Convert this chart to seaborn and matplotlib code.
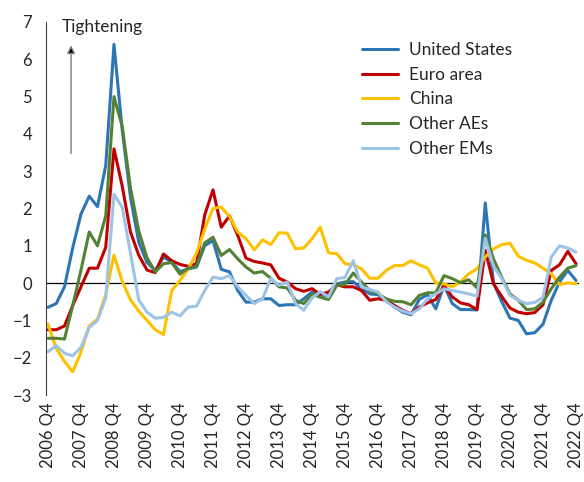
import numpy as np
import pandas as pd
import matplotlib
matplotlib.use("Agg")
import matplotlib.pyplot as plt
import seaborn as sns

year_labels = ["2006 Q4", "2007 Q4", "2008 Q4", "2009 Q4", "2010 Q4", "2011 Q4",
               "2012 Q4", "2013 Q4", "2014 Q4", "2015 Q4", "2016 Q4", "2017 Q4",
               "2018 Q4", "2019 Q4", "2020 Q4", "2021 Q4", "2022 Q4"]

# quarterly values, 2006 Q4 .. 2022 Q4 (65 quarters)
united_states = [-0.65, -0.55, -0.1, 0.95, 1.85, 2.33, 2.05, 3.15, 6.4, 4.1, 2.3, 1.1, 0.55,
                 0.34, 0.7, 0.56, 0.31, 0.38, 0.43, 1.0, 1.14, 0.37, 0.3, -0.2, -0.51,
                 -0.51, -0.42, -0.42, -0.6, -0.58, -0.58, -0.42, -0.24, -0.33, -0.33, -0.02,
                 0.03, 0.04, -0.15, -0.29, -0.31, -0.46, -0.64, -0.78, -0.85, -0.44, -0.31,
                 -0.69, -0.06, -0.55, -0.71, -0.71, -0.72, 2.15, 0.0, -0.5, -0.94, -1.0,
                 -1.36, -1.33, -1.1, -0.46, 0.03, 0.34, 0.07]
euro_area = [-1.25, -1.25, -1.15, -0.6, -0.1, 0.4, 0.4, 0.96, 3.6, 2.6, 1.37, 0.75, 0.35,
             0.28, 0.78, 0.6, 0.5, 0.45, 0.52, 1.83, 2.5, 1.5, 1.8, 1.28, 0.67,
             0.58, 0.54, 0.49, 0.13, 0.03, -0.15, -0.22, -0.15, -0.3, -0.24, -0.05,
             -0.1, -0.1, -0.2, -0.46, -0.42, -0.46, -0.6, -0.73, -0.82, -0.64, -0.53,
             -0.44, -0.06, -0.37, -0.53, -0.58, -0.71, 0.88, -0.02, -0.36, -0.67, -0.78,
             -0.82, -0.79, -0.58, 0.34, 0.49, 0.85, 0.52]
china = [-1.1, -1.75, -2.1, -2.38, -1.85, -1.15, -0.97, -0.3, 0.75, 0.05, -0.45, -0.75, -1.0,
         -1.25, -1.38, -0.2, 0.07, 0.38, 0.8, 1.45, 2.0, 2.04, 1.78, 1.37, 1.19,
         0.89, 1.16, 1.03, 1.35, 1.34, 0.92, 0.94, 1.19, 1.5, 0.81, 0.79,
         0.52, 0.49, 0.38, 0.13, 0.13, 0.34, 0.47, 0.47, 0.6, 0.49, 0.4,
         0.0, -0.02, -0.1, 0.03, 0.25, 0.38, 0.7, 0.92, 1.03, 1.07, 0.72,
         0.61, 0.54, 0.4, 0.25, -0.04, 0.01, -0.02]
other_aes = [-1.48, -1.48, -1.5, -0.6, 0.35, 1.37, 1.0, 1.8, 5.0, 4.2, 2.55, 1.4, 0.68,
             0.3, 0.52, 0.55, 0.24, 0.4, 0.45, 1.08, 1.23, 0.74, 0.9, 0.65, 0.43,
             0.27, 0.31, 0.13, -0.1, -0.13, -0.46, -0.55, -0.29, -0.38, -0.44, -0.06,
             -0.04, 0.27, 0.03, -0.2, -0.29, -0.42, -0.49, -0.5, -0.58, -0.33, -0.26,
             -0.26, 0.2, 0.12, 0.01, 0.09, -0.13, 1.29, 0.65, 0.15, -0.29, -0.46,
             -0.71, -0.69, -0.51, -0.15, 0.16, 0.4, 0.47]
other_ems = [-1.84, -1.68, -1.88, -1.95, -1.72, -1.19, -1.0, -0.4, 2.38, 2.03, 0.8, -0.45, -0.78,
             -0.94, -0.92, -0.78, -0.88, -0.64, -0.62, -0.2, 0.16, 0.12, 0.2, -0.1, -0.33,
             -0.55, -0.42, 0.12, -0.06, 0.03, -0.55, -0.73, -0.4, -0.23, -0.37, 0.12,
             0.15, 0.6, -0.1, -0.17, -0.24, -0.5, -0.64, -0.75, -0.82, -0.69, -0.42,
             -0.29, -0.15, -0.2, -0.24, -0.29, -0.35, 1.2, 0.45, 0.12, -0.33, -0.46,
             -0.55, -0.52, -0.38, 0.7, 1.0, 0.94, 0.83]

series = {"United States": united_states, "Euro area": euro_area, "China": china,
          "Other AEs": other_aes, "Other EMs": other_ems}
colors = {"United States": "#2E75B6", "Euro area": "#C00000", "China": "#FFC000",
          "Other AEs": "#548235", "Other EMs": "#9DC3E6"}

frames = []
for name, vals in series.items():
    frames.append(pd.DataFrame({"q": np.arange(len(vals)), "value": vals, "series": name}))
df = pd.concat(frames, ignore_index=True)

sns.set_style("white")
plt.rcParams['font.family'] = ['Lato', 'DejaVu Sans']

fig = plt.figure(figsize=(5.84, 4.82), dpi=100)
ax = fig.add_axes([46 / 584, 1 - 395 / 482, (579 - 46) / 584, (395 - 22) / 482])

sns.lineplot(data=df, x="q", y="value", hue="series", hue_order=list(series.keys()),
             palette=colors, linewidth=2.2, ax=ax, legend=True)

ax.axhline(0, color="black", lw=0.9, zorder=1)
ax.set_xlim(-0.24, 64.36)
ax.set_ylim(-3, 7)
ax.set_yticks(range(-3, 8))
ax.set_xticks(range(0, 65, 4))
ax.set_xticklabels(year_labels, rotation=90, fontsize=12)
ax.tick_params(axis="y", labelsize=12, length=4, width=0.8, direction="out", color="#404040", pad=6)
ax.tick_params(axis="x", length=0, pad=5)
ax.set_xlabel("")
ax.set_ylabel("")
for s in ["top", "right", "bottom"]:
    ax.spines[s].set_visible(False)
ax.spines["left"].set_color("#404040")
ax.spines["left"].set_linewidth(0.8)

ax.text(62 / 584, 1 - 27 / 482, "Tightening", transform=fig.transFigure, fontsize=12.5,
        va="center", ha="left")
ax.annotate("", xy=(2.8, 6.45), xytext=(2.8, 3.4),
            arrowprops=dict(arrowstyle="-|>", color="#808080", lw=1.0, mutation_scale=12,
                            fc="black", ec="#808080"))

leg = ax.legend(loc="upper left", bbox_to_anchor=(362 / 584, 1 - 42 / 482),
                bbox_transform=fig.transFigure, frameon=False, fontsize=12.5,
                handlelength=2.1, handletextpad=0.6, labelspacing=0.5,
                borderpad=0, borderaxespad=0)
for line in leg.get_lines():
    line.set_linewidth(2.2)

fig.savefig("out.png", dpi=100)
